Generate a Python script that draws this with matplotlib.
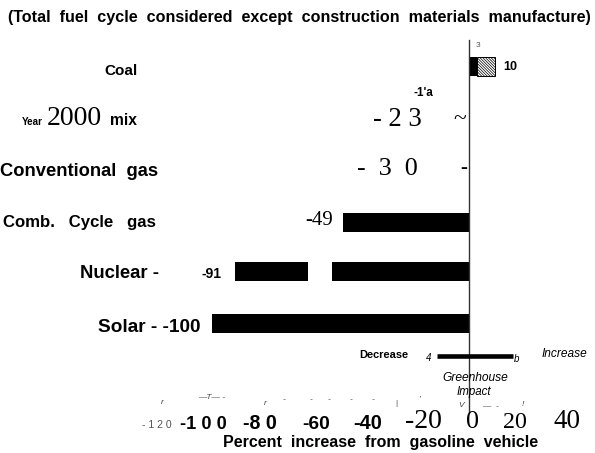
import numpy as np
import matplotlib
matplotlib.use("Agg")
import matplotlib.pyplot as plt

# scanned chart: greenhouse impact of electric vehicles vs gasoline
fuels = ["Coal", "Year 2000 mix", "Conventional gas", "Comb. Cycle gas", "Nuclear", "Solar"]
change = [10, -23, -30, -49, -91, -100]
coal_parts = [3, 7]                      # solid part, hatched part
bar_drawn = [True, False, False, True, True, True]   # bars that survived the scan
nuclear_gap = (-62.5, -53.3)
tick_labels = ["-120", "-100", "-80", "-60", "-40", "-20", "0", "20", "40"]

W, H = 595, 453
ZERO_PX, SCALE = 469, 2.57
row_y = [66, 120, 170, 222, 271, 323]
BAR_H = 19

SANS = "Liberation Sans"
SERIF = "Liberation Serif"

fig = plt.figure(figsize=(W / 100, H / 100), dpi=100)
ax = fig.add_axes([0, 0, 1, 1])
ax.set_xlim(-ZERO_PX / SCALE, (W - ZERO_PX) / SCALE)
ax.set_ylim(H, 0)
ax.axis("off")
renderer = fig.canvas.get_renderer()


def put(s, x0, base, size, x1=None, ha="left", family=SANS, **kw):
    t = fig.text(x0 / W, 1 - base / H, s, fontsize=size, ha=ha, va="baseline",
                 family=family, **kw)
    if x1 is not None:
        w = t.get_window_extent(renderer).width
        t.set_fontsize(size * (x1 - x0) / w)
    return t


# bars
plt.rcParams["hatch.linewidth"] = 0.5
for i, v in enumerate(change):
    if not bar_drawn[i]:
        continue
    y = row_y[i]
    if fuels[i] == "Coal":
        ax.barh(y, coal_parts[0], left=0, height=BAR_H, color="black")
        ax.barh(y, coal_parts[1], left=coal_parts[0], height=BAR_H, color="white",
                edgecolor="black", hatch="\\" * 12, linewidth=0.7)
    elif fuels[i] == "Nuclear":
        ax.barh(y, nuclear_gap[0] - v, left=v, height=BAR_H, color="black")
        ax.barh(y, -nuclear_gap[1], left=nuclear_gap[1], height=BAR_H, color="black")
    else:
        ax.barh(y, v, left=0, height=BAR_H, color="black")

# zero line and decrease/increase indicator
ax.plot([0, 0], [40, 412], color="#333333", lw=1.0)
ax.plot([-12.5, 17.2], [356, 356], color="black", lw=3.3, solid_capstyle="butt")

# title
put("(Total  fuel  cycle  considered  except  construction  materials  manufacture)",
    8, 22, 10, x1=590, weight="bold")

# category labels
put("Coal", 104, 75, 8, x1=137, weight="bold")
put("Year", 22, 125, 7, x1=43, weight="bold")
put("2000", 47, 125, 20, x1=102, family=SERIF)
put("mix", 110, 125, 9, x1=137, weight="bold")
put("Conventional  gas", 0, 176, 12, x1=157, weight="bold")
put("Comb.   Cycle   gas", 3, 227, 10, x1=157, weight="bold")
put("Nuclear -", 80, 278, 12, x1=159, weight="bold")
put("Solar - -100", 98, 332, 12, x1=200, weight="bold")

# value labels as scanned
put("3", 476, 47, 6, color="#555555")
put("10", 503, 70, 10, x1=517, weight="bold")
put("-1'a", 413, 96, 6, x1=433, weight="bold")
put("- 2 3", 373, 126, 19, x1=422, family=SERIF)
put("~", 453, 125, 17, family=SERIF)
put("-  3  0", 357, 175, 18, x1=418, family=SERIF)
put("-", 460, 173, 12, x1=467, family=SERIF)
put("-49", 305, 225, 15, family=SERIF)
put("-91", 202, 278, 10, x1=222, weight="bold")

# decrease / increase legend
put("Decrease", 359, 358, 8, x1=408, weight="bold")
put("4", 426, 361, 7, style="italic")
put("b", 514, 362, 7, style="italic")
put("Increase", 542, 357, 8, x1=588, style="italic")
put("Greenhouse", 442, 381, 8, x1=509, style="italic")
put("Impact", 457, 395, 8, x1=492, style="italic")

# scan noise above tick labels
noise = [("r", 161, 404), ("\u2014T\u2014 -", 198, 399), ("r", 264, 405), ("-", 283, 401),
         ("-", 310, 401), ("-", 328, 401), ("-", 350, 401), ("-", 372, 401), ("|", 395, 405),
         ("'", 418, 400), ("V", 458, 407), ("\u2014", 482, 408), ("-", 496, 408), ("!", 522, 406)]
for s, x, y in noise:
    put(s, x, y, 6, color="#444444", style="italic" if s != "|" else "normal")

# tick labels (mixed fonts from the scan)
tick_specs = [
    ("- 1 2 0", 142, 428, 7, 172, SANS, "normal", "#555555"),
    ("-1 0 0", 180, 429, 13, 227, SANS, "bold", "black"),
    ("-8 0", 243, 429, 13, 277, SANS, "bold", "black"),
    ("-60", 302, 429, 13, 330, SANS, "bold", "black"),
    ("-40", 353, 429, 13, 382, SANS, "bold", "black"),
    ("-20", 405, 428, 19, 442, SERIF, "normal", "black"),
    ("0", 466, 428, 19, 479, SERIF, "normal", "black"),
    ("20", 503, 428, 19, 527, SERIF, "normal", "black"),
    ("40", 553, 428, 19, 580, SERIF, "normal", "black"),
]
for (s, x0, base, size, x1, fam, wt, col), lab in zip(tick_specs, tick_labels):
    put(s, x0, base, size, x1=x1, family=fam, weight=wt, color=col)

put("Percent  increase  from  gasoline  vehicle", 223, 447, 11, x1=537, weight="bold")

fig.savefig("out.png", dpi=100)
